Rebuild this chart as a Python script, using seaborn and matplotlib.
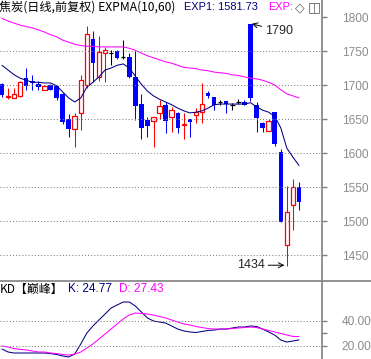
import matplotlib
matplotlib.use("Agg")
import matplotlib.pyplot as plt
import numpy as np
import pandas as pd
import seaborn as sns
from matplotlib.lines import Line2D

# 焦炭日线 K 线 + EXPMA(10,60) + KD 副图，数值从截图上读出。
opens = [1702, 1682, 1681, 1684, 1710, 1706, 1701, 1693, 1700, 1699,
         1687, 1650, 1635, 1659, 1700, 1768, 1712, 1747, 1747, 1750,
         1741, 1741, 1712, 1672, 1649, 1647, 1659, 1671, 1653, 1659,
         1641, 1650, 1656, 1660, 1688, 1682, 1675, 1676, 1671, 1675,
         1675, 1790, 1671, 1644, 1632, 1660, 1601, 1465, 1524, 1550]
highs = [1703, 1696, 1696, 1706, 1725, 1715, 1706, 1700, 1702, 1700,
         1688, 1657, 1659, 1715, 1787, 1779, 1772, 1756, 1751, 1751,
         1766, 1747, 1751, 1687, 1653, 1653, 1678, 1675, 1668, 1660,
         1659, 1650, 1666, 1703, 1691, 1682, 1678, 1677, 1674, 1679,
         1678, 1790, 1675, 1646, 1650, 1660, 1606, 1551, 1562, 1557]
lows = [1682, 1679, 1681, 1683, 1693, 1693, 1692, 1692, 1692, 1678,
        1643, 1624, 1609, 1634, 1695, 1704, 1706, 1705, 1729, 1738,
        1738, 1710, 1649, 1621, 1624, 1609, 1650, 1629, 1631, 1629,
        1621, 1624, 1644, 1644, 1681, 1663, 1671, 1659, 1663, 1672,
        1671, 1676, 1631, 1631, 1632, 1611, 1499, 1434, 1487, 1516]
closes = [1685, 1684, 1687, 1704, 1699, 1703, 1697, 1699, 1693, 1681,
          1646, 1635, 1654, 1707, 1775, 1733, 1749, 1751, 1747, 1740,
          1741, 1712, 1669, 1637, 1640, 1653, 1669, 1647, 1663, 1637,
          1642, 1646, 1660, 1672, 1684, 1671, 1675, 1672, 1671, 1675,
          1671, 1681, 1651, 1637, 1647, 1613, 1499, 1513, 1550, 1528]

exp1 = [1729, 1722, 1715, 1710, 1707, 1704, 1704, 1703, 1703, 1699,
        1690, 1681, 1675, 1681, 1697, 1704, 1712, 1722, 1725, 1729,
        1731, 1725, 1713, 1701, 1691, 1684, 1679, 1675, 1671, 1666,
        1662, 1659, 1660, 1662, 1666, 1671, 1672, 1672, 1672, 1672,
        1672, 1674, 1668, 1663, 1660, 1654, 1637, 1607, 1594, 1581.73]
exp2 = [1798, 1794, 1791, 1788, 1786, 1784, 1781, 1778, 1774, 1771,
        1766, 1763, 1760, 1758, 1757, 1757, 1756, 1756, 1756, 1756,
        1756, 1754, 1751, 1747, 1743, 1740, 1737, 1734, 1732, 1729,
        1726, 1725, 1724, 1722, 1721, 1719, 1718, 1717, 1715, 1714,
        1712, 1710, 1709, 1707, 1704, 1700, 1693, 1687, 1684, 1681]

k_vals = [17.6, 15.3, 14.5, 14.5, 14.5, 14.5, 14.5, 14.5, 14.1, 13.3,
          12.2, 11.4, 13.7, 21.6, 30.2, 35.7, 40.4, 45.1, 49.8, 52.2,
          54.5, 54.5, 51.4, 46.7, 42.0, 39.6, 38.8, 38.0, 35.7, 33.3,
          31.8, 31.0, 30.6, 31.4, 32.2, 32.5, 33.3, 33.3, 34.1, 34.9,
          34.9, 35.7, 35.3, 33.3, 31.0, 28.6, 24.7, 23.1, 23.9, 24.77]
d_vals = [20.0, 19.2, 18.0, 17.3, 16.9, 16.1, 15.3, 15.3, 14.5, 14.1,
          13.3, 12.9, 13.7, 15.3, 18.4, 21.6, 25.5, 29.4, 33.3, 37.3,
          41.2, 44.3, 45.9, 45.5, 45.1, 44.3, 43.1, 42.0, 40.4, 38.8,
          37.3, 36.5, 35.3, 34.5, 33.7, 33.3, 33.3, 33.3, 33.7, 34.1,
          34.5, 34.9, 34.5, 33.3, 32.2, 31.0, 29.8, 28.6, 27.5, 27.43]

price_ticks = [1450, 1500, 1550, 1600, 1650, 1700, 1750, 1800]
kd_ticks = [20, 40]

RED, BLUE, NAVY, MAG, GRAY = "#ff0000", "#0000ff", "#000080", "#ff00ff", "#808080"
W, H = 371, 359
LW = 0.75

sns.set_style("white")
plt.rcParams["font.family"] = ["Liberation Sans", "DejaVu Sans"]
CJK = ["Noto Sans CJK SC", "DejaVu Sans"]

df = pd.DataFrame({"i": np.arange(len(opens)), "open": opens, "high": highs,
                   "low": lows, "close": closes, "exp1": exp1, "exp2": exp2,
                   "K": k_vals, "D": d_vals})

fig = plt.figure(figsize=(W / 100, H / 100), dpi=100)
ax = fig.add_axes([0, 78 / H, 322 / W, 281 / H])
ax2 = fig.add_axes([0, 0, 322 / W, 78 / H])

o, c = df["open"].to_numpy(), df["close"].to_numpy()
x = df["i"].to_numpy()
lo_b, hi_b = np.minimum(o, c), np.maximum(o, c)
up, dn, flat = c > o, c < o, c == o
bw = 0.74

# 下跌：实心蓝
ax.vlines(x[dn], df["low"][dn], df["high"][dn], color=BLUE, lw=LW)
ax.bar(x[dn], (hi_b - lo_b)[dn], bottom=lo_b[dn], width=bw, color=BLUE, lw=0)
# 上涨：空心红
ax.vlines(x[up], df["low"][up], lo_b[up], color=RED, lw=LW)
ax.vlines(x[up], hi_b[up], df["high"][up], color=RED, lw=LW)
ax.bar(x[up], (hi_b - lo_b)[up], bottom=lo_b[up], width=bw, facecolor="white",
       edgecolor=RED, lw=0.9)
# 十字星
ax.vlines(x[flat], df["low"][flat], df["high"][flat], color="black", lw=LW)
ax.hlines(c[flat], x[flat] - bw / 2, x[flat] + bw / 2, color="black", lw=0.9)

sns.lineplot(data=df, x="i", y="exp1", color=NAVY, lw=LW, ax=ax, legend=False)
sns.lineplot(data=df, x="i", y="exp2", color=MAG, lw=LW, ax=ax, legend=False)
sns.lineplot(data=df, x="i", y="K", color=NAVY, lw=LW, ax=ax2, legend=False)
sns.lineplot(data=df, x="i", y="D", color=MAG, lw=LW, ax=ax2, legend=False)

xlim = (-0.33, 52.8)
ax.set_xlim(xlim)
ax.set_ylim(1411.8, 1825)
ax2.set_xlim(xlim)
ax2.set_ylim(9.8, 71.0)

for a, ticks, fmt in [(ax, price_ticks, "{:d}"), (ax2, kd_ticks, "{:.2f}")]:
    for s in a.spines.values():
        s.set_visible(False)
    a.set_xticks([])
    a.set_xlabel("")
    a.set_ylabel("")
    a.yaxis.tick_right()
    a.set_yticks(ticks)
    a.set_yticklabels([fmt.format(t) for t in ticks])
    a.tick_params(axis="y", direction="out", length=3.8, width=1, color=GRAY,
                  labelcolor="#8c8c8c", labelsize=8.6, pad=10.5)
    a.patch.set_alpha(0)
    grid_vals = [t for t in ticks if t != 1800]
    a.hlines(grid_vals, xlim[0], xlim[1], color=GRAY, lw=0.75, linestyle=(0, (1, 2)))
ax2.set_yticks([30], minor=True)
ax2.tick_params(axis="y", which="minor", direction="out", length=3.8, width=1, color=GRAY)

# 右侧轴线和上下分隔线
fig.add_artist(Line2D([322 / W, 322 / W], [0, 1], color=GRAY, lw=1.2))
fig.add_artist(Line2D([0, 1], [78 / H, 78 / H], color=GRAY, lw=1.2))

# 最高/最低价标注
ih, il = int(df["high"].idxmax()), int(df["low"].idxmin())
ax.annotate(f"{highs[ih]:d}", xy=(ih + 0.2, highs[ih]), xytext=(9.5, -5),
            textcoords="offset points", ha="left", va="center", fontsize=9,
            arrowprops=dict(arrowstyle="->", color="black", lw=0.7,
                            shrinkA=0, shrinkB=0))
ax.annotate(f"{lows[il]:d}", xy=(il - 0.4, lows[il] + 1), xytext=(-14, 0),
            textcoords="offset points", ha="right", va="center", fontsize=9,
            arrowprops=dict(arrowstyle="->", color="black", lw=0.7,
                            shrinkA=0, shrinkB=0))

# 标题文字
def put(px, py, s, color, **kw):
    fig.text(px / W, 1 - py / H, s, color=color, va="center", ha="left", **kw)

put(-1, 7.5, "焦炭(日线,前复权) EXPMA(10,60)", "black", fontsize=8.7, family=CJK)
put(184, 7.5, f"EXP1: {exp1[-1]:.2f}", NAVY, fontsize=7.9)
put(268, 7.5, "EXP:", MAG, fontsize=7.9)
put(295, 7.5, "◇", "#606060", fontsize=9, family=["DejaVu Sans"])
put(308, 7.5, "◫", "#606060", fontsize=10, family=["DejaVu Sans"])

put(0, 289.5, "KD【巅峰】", "black", fontsize=8.6, family=CJK)
put(68, 289.5, f"K: {k_vals[-1]:.2f}", NAVY, fontsize=8.5)
put(119, 289.5, f"D: {d_vals[-1]:.2f}", MAG, fontsize=8.5)

fig.savefig("out.png", dpi=100, facecolor="white")
